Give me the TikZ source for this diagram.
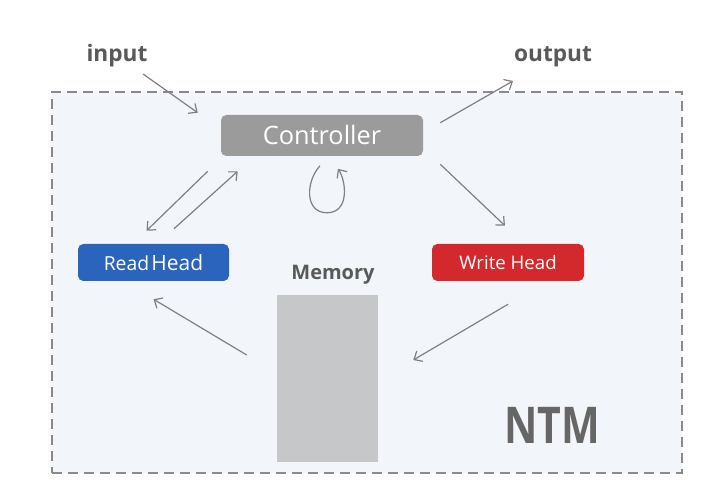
\documentclass[tikz,border=0pt]{standalone}
\usepackage{fontspec}
\setmainfont{Open Sans}
\usetikzlibrary{arrows.meta,calc}
\definecolor{framefill}{HTML}{F2F5FA}
\definecolor{framedraw}{HTML}{8A8A8A}
\definecolor{ctrlfill}{HTML}{9B9B9B}
\definecolor{readfill}{HTML}{2B64BC}
\definecolor{writefill}{HTML}{D3282C}
\definecolor{memfill}{HTML}{C5C7C9}
\definecolor{lblcol}{HTML}{595959}
\definecolor{ntmcol}{HTML}{666666}
\definecolor{arrcol}{HTML}{7F7F7F}
\begin{document}
\begin{tikzpicture}[x=0.75pt,y=-0.75pt,
  framebox/.style={draw=framedraw,fill=framefill,line width=1.5pt,dash pattern=on 7.5pt off 4.5pt,minimum width=472.5pt,minimum height=285.75pt,inner sep=0pt},
  boxbase/.style={rounded corners=4pt,text=white,inner sep=0pt},
  ctrlbox/.style={boxbase,fill=ctrlfill,minimum width=151.5pt,minimum height=30.75pt,font=\fontsize{19pt}{22pt}\selectfont},
  readbox/.style={boxbase,fill=readfill,minimum width=113.25pt,minimum height=27.75pt},
  writebox/.style={boxbase,fill=writefill,minimum width=114pt,minimum height=27.75pt,font=\fontsize{14pt}{16pt}\selectfont},
  membox/.style={fill=memfill,minimum width=75.75pt,minimum height=125.25pt,inner sep=0pt},
  lbl/.style={text=lblcol,font=\bfseries\fontsize{17pt}{20pt}\selectfont,inner sep=0pt},
  memlbl/.style={text=lblcol,font=\bfseries\fontsize{15pt}{18pt}\selectfont,inner sep=0pt},
  ntmlbl/.style={text=ntmcol,font=\bfseries\fontsize{38pt}{44pt}\selectfont,inner sep=0pt},
  arr/.style={draw=arrcol,line width=0.9pt,-{Straight Barb[length=5pt,width=9pt]}}
]
\fill[white] (0,0) rectangle (722,495);
\useasboundingbox (0,0) rectangle (722,495);
\node[framebox] (frame) at (367,282.5) {};
\node[ctrlbox] (ctrl) at (322,135.5) {Controller};
\node[readbox] (read) at (153.5,262.5) {{\fontsize{14.5pt}{16pt}\selectfont Read}\,{\fontsize{15.75pt}{18pt}\selectfont Head}};
\node[writebox] (write) at (508,262.5) {Write Head};
\node[membox] (mem) at (327.5,378.5) {};
\node[lbl,anchor=base] (input) at (117,62) {input};
\node[lbl,anchor=base] (output) at (553,62) {output};
\node[memlbl,anchor=base] (memlabel) at (333,280) {Memory};
\node[ntmlbl,anchor=base] (ntm) at (552,444) {\scalebox{0.81}[1]{NTM}};
% connectors
\draw[arr] ($(input.base)+(26,12)$) -- ($(ctrl.north west)+(-23,-2)$);
\draw[arr] ($(ctrl.north east)+(17,8)$) -- ($(output.base)+(-40,19)$);
\draw[arr] ($(ctrl.south west)+(-13,15)$) -- ($(read.north)+(-7,-13)$);
\draw[arr] ($(read.north)+(20.5,-15)$) -- ($(ctrl.south west)+(17,15)$);
\draw[arr] ($(ctrl.south east)+(17,8)$) -- ($(write.north)+(-3,-18)$);
\draw[arr] ($(write.south)+(0,23)$) -- ($(mem.east)+(35,-18.5)$);
\draw[arr] ($(mem.west)+(-30,-23.5)$) -- ($(read.south)+(0,18)$);
\coordinate (loopA) at ($(ctrl.south)+(-2,9.5)$);
\draw[arr] (loopA) .. controls +(-14,15) and +(-23,0) .. ++(7,47) .. controls +(23,0) and +(8,12) .. ++(11,-44);
\end{tikzpicture}
\end{document}
